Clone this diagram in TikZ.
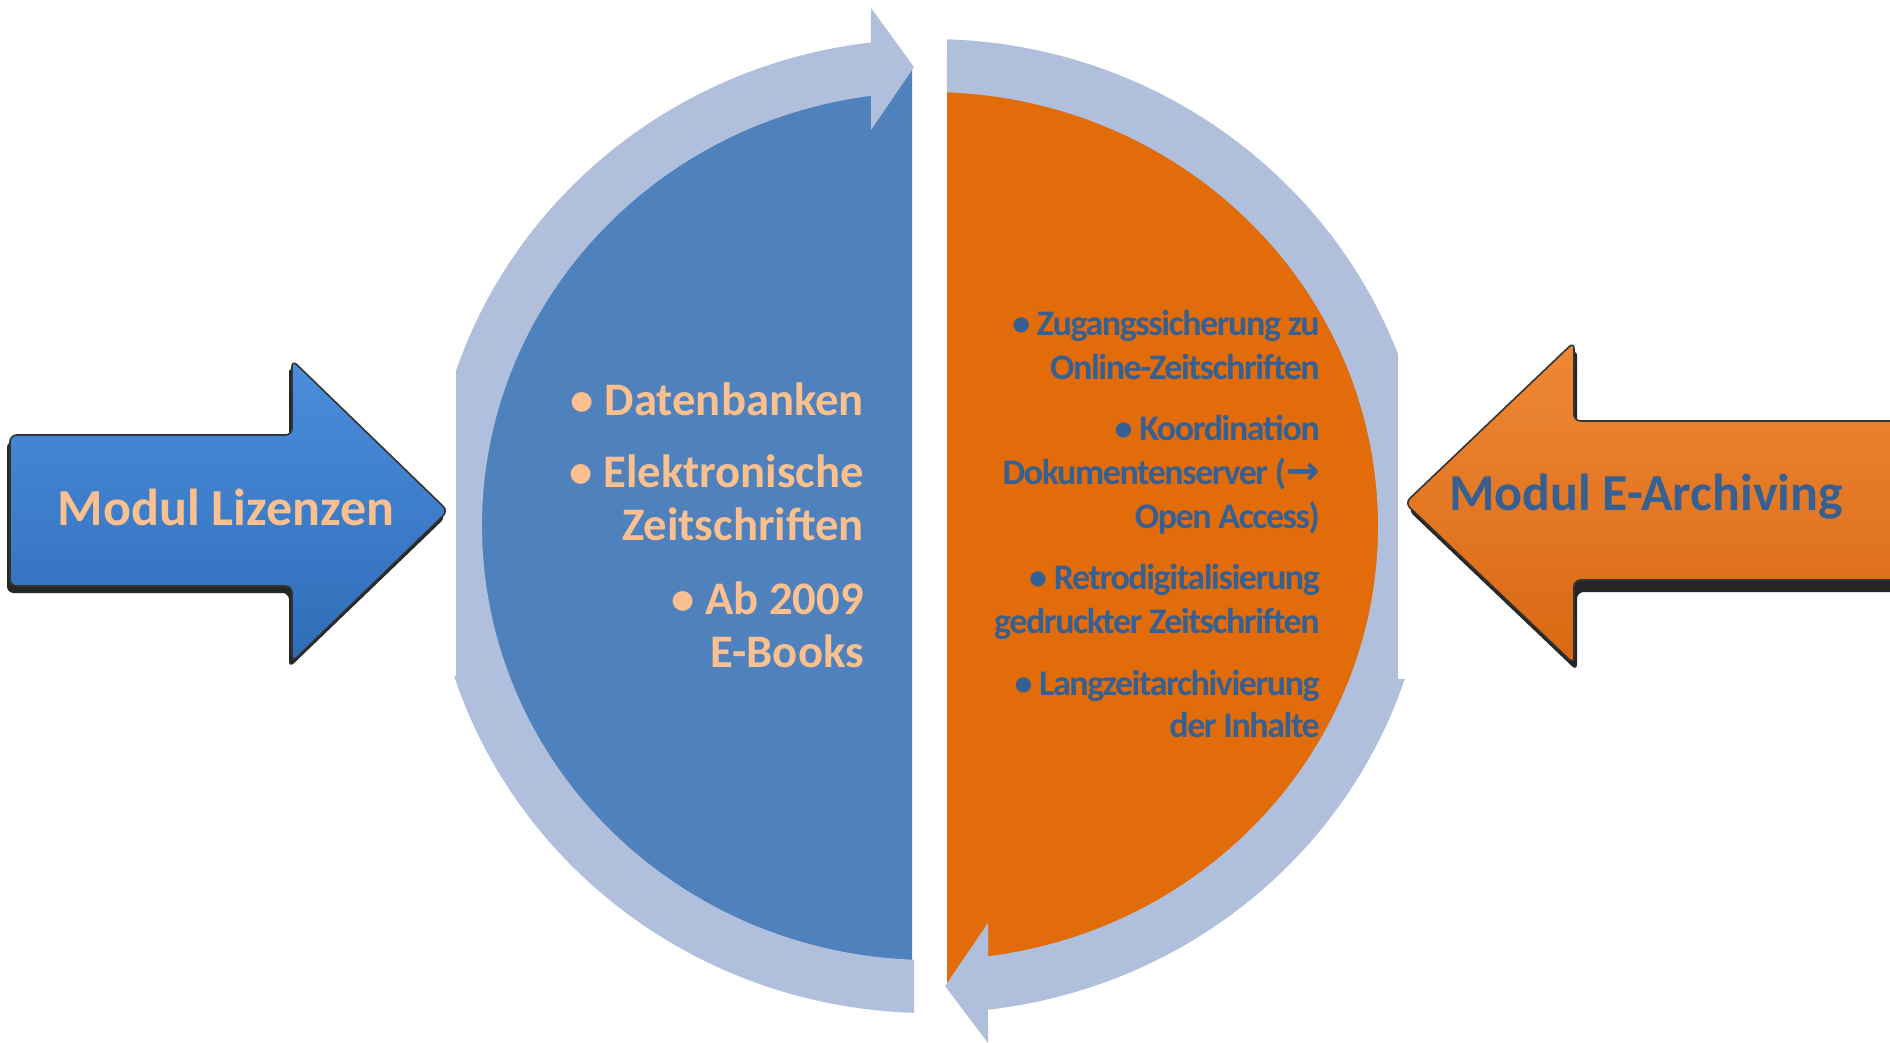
\documentclass[tikz,border=0pt]{standalone}
\usepackage{fontspec}
\setmainfont{Carlito}
\newfontfamily\tightfont[LetterSpace=-4]{Carlito}
\newfontfamily\arrowfont{DejaVu Sans}
\usepackage{tikz}

\definecolor{ringblue}{RGB}{176,192,220}
\definecolor{halfblue}{RGB}{79,129,189}
\definecolor{halforange}{RGB}{227,108,10}
\definecolor{peach}{RGB}{250,192,144}
\definecolor{slate}{RGB}{55,96,146}

\tikzset{
  ring/.style={fill=ringblue},
  shadowarrow/.style={fill=black!85, rounded corners=5},
  bluearrow/.style={top color={rgb,255:red,74;green,142;blue,220}, bottom color={rgb,255:red,48;green,108;blue,184}, draw=black!80, line width=1.2, rounded corners=5},
  orangearrow/.style={top color={rgb,255:red,238;green,136;blue,54}, bottom color={rgb,255:red,218;green,104;blue,18}, draw=black!80, line width=1.2, rounded corners=5},
  bluetext/.style={anchor=base east, inner sep=0pt, text=peach, font=\fontsize{35}{42}\selectfont\bfseries},
  orangetext/.style={anchor=base east, inner sep=0pt, text=slate, font=\tightfont\fontsize{27}{33}\selectfont\bfseries},
  modul/.style={anchor=base, inner sep=0pt, font=\fontsize{39}{46}\selectfont\bfseries}
}

\begin{document}
\begin{tikzpicture}[x=0.75pt,y=0.75pt,yscale=-1,xscale=1]
\useasboundingbox (0,0) rectangle (1890,1042);

%Shape: Half Ellipse (left)
\fill [halfblue] (912,69) arc [start angle=270, end angle=90, x radius=431, y radius=457] -- cycle ;
%Shape: Half Ellipse (right)
\fill [halforange] (947,69) arc [start angle=-90, end angle=90, x radius=432, y radius=457] -- cycle ;

\begin{scope}
\clip (0,-10) -- (1900,-10) -- (1900,300) -- (1398,300) -- (1398,679) -- (1900,679) -- (1900,1050) -- (0,1050) -- (0,676) -- (456,676) -- (456,300) -- (0,300) -- cycle ;
%Shape: Circular Arrow (left, upwards)
\fill [ring] (914,1012.8) arc [start angle=91.83, end angle=263.2, x radius=500, y radius=487] -- (871,8) -- (914,67) -- (871,130) -- (871,95.8) arc [start angle=262.43, end angle=92.05, x radius=448, y radius=434] -- cycle ;
%Shape: Circular Arrow (right, downwards)
\fill [ring] (947,39.3) arc [start angle=271.95, end angle=443.34, x radius=500, y radius=487] -- (988,1043) -- (945,986) -- (988,923) -- (988,956.3) arc [start angle=442.56, end angle=272.17, x radius=448, y radius=434] -- cycle ;
\end{scope}

%Shape: Right Arrow
\fill [shadowarrow] (7,441) -- (289,441) -- (289,366) -- (446,517) -- (289,668) -- (289,593) -- (7,593) -- cycle ;
\path [bluearrow] (10,435) -- (292,435) -- (292,360) -- (448,511) -- (292,662) -- (292,586) -- (10,586) -- cycle ;
%Shape: Left Arrow
\fill [shadowarrow] (1900,428) -- (1577,428) -- (1577,349) -- (1408,510) -- (1577,671) -- (1577,592) -- (1900,592) -- cycle ;
\path [orangearrow] (1900,421) -- (1574,421) -- (1574,342) -- (1405,503) -- (1574,664) -- (1574,580) -- (1900,580) -- cycle ;

% Text Node
\node (lizenzen) at (226,525) [modul, text=peach] {Modul Lizenzen};
% Text Node
\node (archiving) at (1646,510) [modul, text=slate] {Modul E-Archiving};

% Text Node
\node (datenbanken) at (864,415) [bluetext] {•\hspace{8pt}Datenbanken};
\node (elektronisch) at (864,487) [bluetext] {•\hspace{8pt}Elektronische};
\node (zeitschriften) at (864,540) [bluetext] {Zeitschriften};
\node (ab) at (864,614) [bluetext] {•\hspace{8pt}Ab 2009};
\node (ebooks) at (864,667) [bluetext] {E-Books};

% Text Node
\node (zugang) at (1320,335) [orangetext] {• Zugangssicherung zu};
\node (online) at (1320,379) [orangetext] {Online-Zeitschriften};
\node (koord) at (1320,440) [orangetext] {• Koordination};
\node (dokserver) at (1320,484) [orangetext] {Dokumentenserver ({\arrowfont\fontsize{30}{30}\selectfont →}};
\node (openaccess) at (1320,528) [orangetext] {Open Access)};
\node (retro) at (1320,589) [orangetext] {• Retrodigitalisierung};
\node (gedruckt) at (1320,633) [orangetext] {gedruckter Zeitschriften};
\node (langzeit) at (1320,695) [orangetext] {• Langzeitarchivierung};
\node (inhalte) at (1320,737) [orangetext] {der Inhalte};

\end{tikzpicture}
\end{document}
